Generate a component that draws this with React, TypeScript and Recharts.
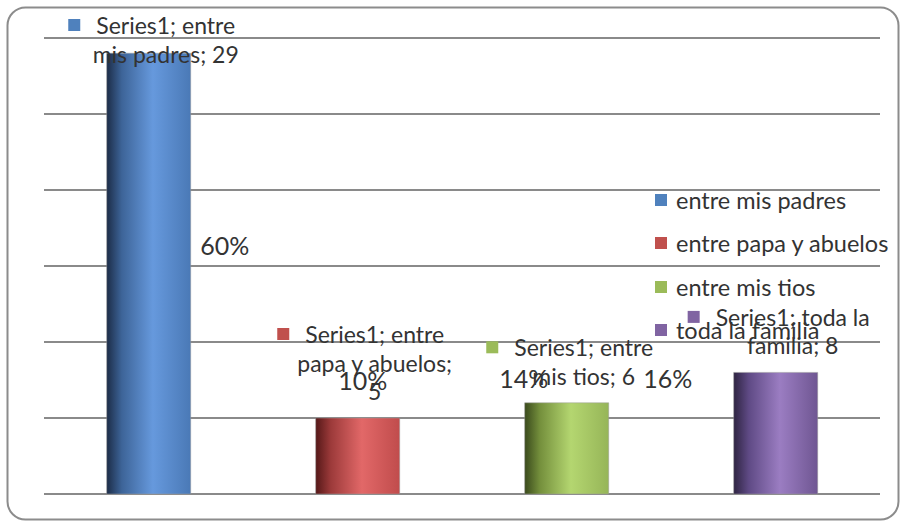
import React from "react";
import { BarChart, Bar, XAxis, YAxis, CartesianGrid, LabelList, Cell } from "recharts";

const categories = ["entre mis padres", "entre papa y abuelos", "entre mis tios", "toda la familia"];
const values = [29, 5, 6, 8];
const percentLabels = ["60%", "10%", "14%", "16%"];
const seriesName = "Series1";
const yTicks = [0, 5, 10, 15, 20, 25, 30];

const colors = ["#4f81bd", "#c0504d", "#9bbb59", "#8064a2"];
const gradients = [
  ["#1c2c47", "#3d6498", "#6699dd", "#4a79b6"],
  ["#551818", "#9c3a3a", "#e26868", "#c04c4c"],
  ["#3a4a1c", "#748f3c", "#b4d670", "#96b558"],
  ["#2e2442", "#5f4a85", "#9b7dc2", "#6f5692"],
];

// where Excel dropped the percentage labels, relative to bar centre / top
const pctDx = [76, 5, -43, -108];
const pctDy = [192, -38, -25, 6];

const FONT = "Lato, 'Open Sans', sans-serif";
const FS = 23;
const LINE = 28.5;

const data = categories.map((name, i) => ({ name, value: values[i] }));

function wrap(text: string, max: number) {
  const words = text.split(" ");
  const lines: string[] = [];
  let cur = "";
  for (const w of words) {
    const next = cur ? cur + " " + w : w;
    if (next.length > max && cur) {
      lines.push(cur);
      cur = w;
    } else cur = next;
  }
  if (cur) lines.push(cur);
  return lines;
}

let ctx: CanvasRenderingContext2D | null = null;
function measure(t: string) {
  if (!ctx) ctx = document.createElement("canvas").getContext("2d");
  if (!ctx) return t.length * FS * 0.5;
  ctx.font = `${FS}px ${FONT}`;
  return ctx.measureText(t).width;
}

const SeriesLabel = (props: any) => {
  const { x, y, width, index } = props;
  const lines = wrap(`${seriesName}; ${categories[index]}; ${values[index]}`, 16);
  const cx = x + width / 2 + 17;
  const firstY = Math.max(y - 27 - (lines.length - 1) * LINE, 25);
  const w0 = measure(lines[0]);
  return (
    <g>
      <rect x={cx - w0 / 2 - 28} y={firstY - 6} width={12} height={12} fill={colors[index]} />
      {lines.map((l, k) => (
        <text key={k} x={cx} y={firstY + k * LINE} textAnchor="middle" dominantBaseline="central"
          fontFamily={FONT} fontSize={FS} fill="#333">{l}</text>
      ))}
    </g>
  );
};

const PctLabel = (props: any) => {
  const { x, y, width, index } = props;
  return (
    <text x={x + width / 2 + pctDx[index]} y={y + pctDy[index]} textAnchor="middle" dominantBaseline="central"
      fontFamily={FONT} fontSize={25} fill="#333">{percentLabels[index]}</text>
  );
};

const LegendBox = () => (
  <div style={{ position: "absolute", left: 655, top: 178, fontFamily: FONT, fontSize: 23.5, color: "#333" }}>
    {categories.map((c, i) => (
      <div key={c} style={{ height: 43.5, display: "flex", alignItems: "center", whiteSpace: "nowrap" }}>
        <span style={{ width: 12, height: 12, background: colors[i], marginRight: 9, display: "inline-block" }} />
        {c}
      </div>
    ))}
  </div>
);

export default function App() {
  return (
    <div style={{ position: "absolute", left: 0, top: 0, width: 902, height: 523, background: "#fff" }}>
      <svg width={902} height={523} style={{ position: "absolute", left: 0, top: 0 }}>
        <rect x={7.5} y={7.5} width={891} height={512} rx={18} fill="none" stroke="#8c8c8c" strokeWidth={2} />
      </svg>
      <div style={{ position: "absolute", left: 0, top: 0 }}>
        <BarChart width={902} height={523} data={data} margin={{ top: 38, right: 22, bottom: 29, left: 44 }}
          barCategoryGap="30%">
          <defs>
            {gradients.map((g, i) => (
              <linearGradient key={i} id={`g${i}`} x1="0" y1="0" x2="1" y2="0">
                <stop offset="0%" stopColor={g[0]} />
                <stop offset="18%" stopColor={g[1]} />
                <stop offset="55%" stopColor={g[2]} />
                <stop offset="100%" stopColor={g[3]} />
              </linearGradient>
            ))}
          </defs>
          <CartesianGrid vertical={false} stroke="#8a8a8a" strokeWidth={2} />
          <XAxis dataKey="name" hide />
          <YAxis hide domain={[0, 30]} ticks={yTicks} />
          <Bar dataKey="value" isAnimationActive={false} stroke="#9a9a9a" strokeWidth={0.5}>
            {data.map((d, i) => (
              <Cell key={d.name} fill={`url(#g${i})`} />
            ))}
            <LabelList dataKey="value" content={<SeriesLabel />} />
            <LabelList dataKey="value" content={<PctLabel />} />
          </Bar>
        </BarChart>
      </div>
      <LegendBox />
    </div>
  );
}
